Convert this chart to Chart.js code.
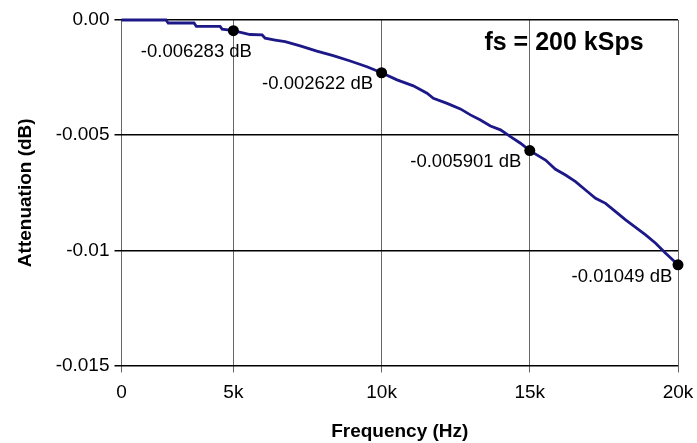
<!DOCTYPE html>
<html>
<head>
<meta charset="utf-8">
<script src="https://cdn.jsdelivr.net/npm/chart.js@4"></script>
<style>
  html, body { margin: 0; padding: 0; background: #fff; }
  #wrap { width: 697px; height: 443px; }
</style>
</head>
<body>
<div id="wrap"><canvas id="chart"></canvas></div>
<script>
// curve
const freqHz = [1225, 2726, 2800, 3672, 3750, 4550, 4620, 5000, 5560, 5970, 6071, 6409, 6746,
  7253, 7817, 8368, 8942, 9506, 10000, 10520, 11070, 11533, 11746, 12209, 12658, 12996,
  13334, 13672, 14010, 14347, 14685, 15000, 15529, 15867, 16205, 16543, 16880, 17218,
  17556, 17894, 18232, 18570, 18907, 19245, 19583, 20000];
const attenDb = [0, 0, -0.00013, -0.00013, -0.00028, -0.00028, -0.0004, -0.000464, -0.00063,
  -0.00065, -0.00079, -0.00087, -0.00094, -0.00112, -0.00135, -0.00155, -0.00178, -0.00203,
  -0.00229, -0.0026, -0.00286, -0.00318, -0.0034, -0.00362, -0.00386, -0.00412, -0.00434,
  -0.0046, -0.00477, -0.00506, -0.00535, -0.00567, -0.00608, -0.00648, -0.00673, -0.00702,
  -0.00738, -0.00774, -0.00796, -0.00832, -0.00868, -0.009, -0.00933, -0.00969, -0.01013,
  -0.01063];

const markerHz = [5000, 10000, 15000, 20000];
const markerDb = [-0.000464, -0.00229, -0.00567, -0.01063];
const markerLabels = ["-0.006283 dB", "-0.002622 dB", "-0.005901 dB", "-0.01049 dB"];

const xTickHz = [1225, 5000, 10000, 15000, 20000];
const xTickLabels = ["0", "5k", "10k", "15k", "20k"];
const yTickDb = [0, -0.005, -0.01, -0.015];
const yTickLabels = ["0.00", "-0.005", "-0.01", "-0.015"];

const FONT = "'Liberation Sans', Arial, Helvetica, sans-serif";
Chart.defaults.font.family = FONT;
Chart.defaults.color = "#000";

// label offsets from each marker (px)
const labelOffsets = [[-37, 21], [-64, 11], [-64, 11], [-56, 12]];

const textPlugin = {
  id: "texts",
  afterDatasetsDraw(chart) {
    const { ctx, scales } = chart;
    ctx.save();
    ctx.fillStyle = "#000";
    ctx.textAlign = "center";
    ctx.textBaseline = "middle";
    ctx.font = "18.5px " + FONT;
    markerLabels.forEach((txt, i) => {
      const px = scales.x.getPixelForValue(markerHz[i]);
      const py = scales.y.getPixelForValue(markerDb[i]);
      ctx.fillText(txt, px + labelOffsets[i][0], py + labelOffsets[i][1]);
    });
    ctx.font = "bold 25px " + FONT;
    ctx.fillText("fs = 200 kSps", 564, 43);
    ctx.restore();
  },
};

const section = document.getElementById("chart");
const config = {
  type: "line",
  data: {
    datasets: [
      {
        label: "points",
        data: markerHz.map((f, i) => ({ x: f, y: markerDb[i] })),
        showLine: false,
        pointRadius: 5.5,
        pointBackgroundColor: "#000",
        pointBorderColor: "#000",
        pointBorderWidth: 0,
        clip: false,
      },
      {
        label: "attenuation",
        data: freqHz.map((f, i) => ({ x: f, y: attenDb[i] })),
        borderColor: "#1c1888",
        borderWidth: 2.8,
        pointRadius: 0,
        tension: 0,
        clip: false,
      },
    ],
  },
  options: {
    responsive: true,
    maintainAspectRatio: false,
    animation: false,
    layout: { padding: { top: 20, right: 19, left: 0, bottom: 0 } },
    plugins: { legend: { display: false }, tooltip: { enabled: false } },
    scales: {
      x: {
        type: "linear",
        min: xTickHz[0],
        max: 20000,
        afterBuildTicks: (s) => { s.ticks = xTickHz.map((v) => ({ value: v })); },
        afterFit: (s) => {
          s.height = 77.5;
          s.paddingLeft = 0;
          s.paddingRight = 0;
        },
        ticks: {
          callback: (v) => xTickLabels[xTickHz.indexOf(v)],
          font: { size: 19 },
          padding: 9,
          maxRotation: 0,
          autoSkip: false,
        },
        grid: { color: "#666", lineWidth: 1, tickLength: 7 },
        border: { display: false },
        title: {
          display: true,
          text: "Frequency (Hz)",
          font: { size: 19, weight: "bold" },
          padding: { top: 8, bottom: 0 },
        },
      },
      y: {
        min: -0.015,
        max: 0,
        afterBuildTicks: (s) => { s.ticks = yTickDb.map((v) => ({ value: v })); },
        afterFit: (s) => {
          s.width = 121.5;
          s.paddingTop = 0;
          s.paddingBottom = 0;
        },
        ticks: {
          callback: (v) => yTickLabels[yTickDb.indexOf(v)],
          font: { size: 19 },
          padding: 5,
          autoSkip: false,
        },
        grid: { color: "#000", lineWidth: 1.5, tickLength: 7 },
        border: { display: false },
        title: {
          display: true,
          text: "Attenuation (dB)",
          font: { size: 19, weight: "bold" },
          padding: { top: 14, bottom: 0 },
        },
      },
    },
  },
  plugins: [textPlugin],
};

const attenChart = new Chart(section, config);
</script>
</body>
</html>
